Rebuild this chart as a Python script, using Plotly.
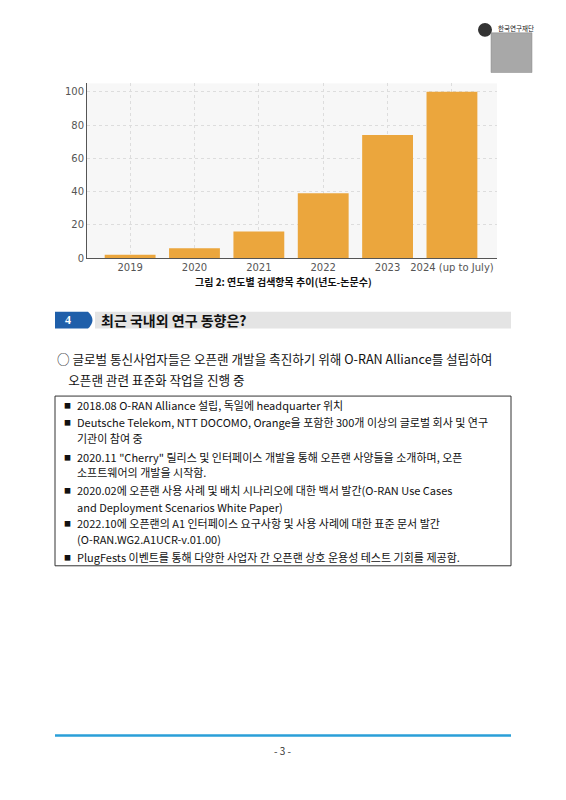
import plotly.graph_objects as go

W, H = 566, 800
years = ["2019", "2020", "2021", "2022", "2023", "2024 (up to July)"]
counts = [2, 6, 16, 39, 74, 100]
y_ticks = [0, 20, 40, 60, 80, 100]

caption = "그림 2: 연도별 검색항목 추이(년도-논문수)"
section_num = "4"
section_title = "최근 국내외 연구 동향은?"
intro_lines = ["○ 글로벌 통신사업자들은 오픈랜 개발을 촉진하기 위해 O-RAN Alliance를 설립하여",
               "    오픈랜 관련 표준화 작업을 진행 중"]
box_lines = [
    ("■", "2018.08 O-RAN Alliance 설립, 독일에 headquarter 위치", 407),
    ("■", "Deutsche Telekom, NTT DOCOMO, Orange을 포함한 300개 이상의 글로벌 회사 및 연구", 424),
    ("", "기관이 참여 중", 440),
    ("■", "2020.11 \"Cherry\" 릴리스 및 인터페이스 개발을 통해 오픈랜 사양들을 소개하며, 오픈", 459),
    ("", "소프트웨어의 개발을 시작함.", 475),
    ("■", "2020.02에 오픈랜 사용 사례 및 배치 시나리오에 대한 백서 발간(O-RAN Use Cases", 493),
    ("", "and Deployment Scenarios White Paper)", 510),
    ("■", "2022.10에 오픈랜의 A1 인터페이스 요구사항 및 사용 사례에 대한 표준 문서 발간", 526),
    ("", "(O-RAN.WG2.A1UCR-v.01.00)", 542),
    ("■", "PlugFests 이벤트를 통해 다양한 사업자 간 오픈랜 상호 운용성 테스트 기회를 제공함.", 560),
]
page_no = "- 3 -"

FONT = "Noto Sans CJK KR"
DX, DY = 8, 7
px = lambda x: (x - DX) / W
py = lambda y: 1 - (y - DY) / H

fig = go.Figure(go.Bar(x=list(range(len(years))), y=counts, marker_color="#EBA63D",
                       marker_line_width=0, width=0.79))
fig.update_layout(
    width=W, height=H, margin=dict(l=0, r=0, t=0, b=0),
    paper_bgcolor="white", plot_bgcolor="#F7F7F7", showlegend=False,
    font=dict(family=FONT),
    xaxis=dict(domain=[px(87), px(497)], range=[-0.67, 5.7], tickvals=list(range(len(years))),
               ticktext=years, showgrid=True, gridcolor="#DDDDDD", griddash="dot",
               tickfont=dict(size=10, color="#555", family="DejaVu Sans"), showline=True,
               linecolor="#555", ticks="", zeroline=False, fixedrange=True),
    yaxis=dict(domain=[py(259), py(83)], range=[0, 105], tickvals=y_ticks,
               showgrid=True, gridcolor="#DDDDDD", griddash="dot",
               tickfont=dict(size=10, color="#555", family="DejaVu Sans"), showline=True,
               linecolor="#555", ticks="", zeroline=False),
)

shapes = []
ann = []
def text(x, y, s, size=11, bold=False, color="#111", anchor="left", fam=FONT):
    ann.append(dict(x=px(x), y=py(y), xref="paper", yref="paper", text=f"<b>{s}</b>" if bold else s,
                    showarrow=False, xanchor=anchor, yanchor="middle",
                    font=dict(size=size, color=color, family=fam)))

# logo
shapes.append(dict(type="rect", xref="paper", yref="paper", x0=px(491), x1=px(532), y0=py(72), y1=py(32),
                   fillcolor="#A8A8A8", line=dict(color="#888", width=0.5)))
shapes.append(dict(type="circle", xref="paper", yref="paper", x0=px(478), x1=px(492), y0=py(36), y1=py(22),
                   fillcolor="#333", line=dict(width=0)))
text(496, 27, "한국연구재단", size=6.5)

text(283, 283, caption, size=10, bold=True, anchor="center")

# section header
shapes.append(dict(type="rect", xref="paper", yref="paper", x0=px(95), x1=px(511), y0=py(330), y1=py(313),
                   fillcolor="#E4E4E4", line=dict(width=0)))
shapes.append(dict(type="path", xref="paper", yref="paper",
                   path=f"M {px(55)},{py(313)} L {px(88)},{py(313)} Q {px(97)},{py(321.5)} {px(88)},{py(330)} L {px(55)},{py(330)} Z",
                   fillcolor="#1F5FAA", line=dict(width=0)))
text(68, 321.5, section_num, size=12, bold=True, color="white", anchor="center", fam="Liberation Serif")
text(99, 321.5, section_title, size=14, bold=True)

text(55, 360, intro_lines[0], size=12.6)
text(55, 381, intro_lines[1], size=12.6)

shapes.append(dict(type="rect", xref="paper", yref="paper", x0=px(55), x1=px(511), y0=py(569), y1=py(398),
                   fillcolor="rgba(0,0,0,0)", line=dict(color="#333", width=1)))
for b, s, y in box_lines:
    if b:
        text(62, y, b, size=7)
    text(75, y, s, size=11)

shapes.append(dict(type="line", xref="paper", yref="paper", x0=px(55), x1=px(511), y0=py(740), y1=py(740),
                   line=dict(color="#2A9FD8", width=2.5)))
text(283, 755, page_no, size=10, anchor="center", color="#333")

fig.update_layout(shapes=shapes, annotations=ann)
fig.write_html("out.html")
